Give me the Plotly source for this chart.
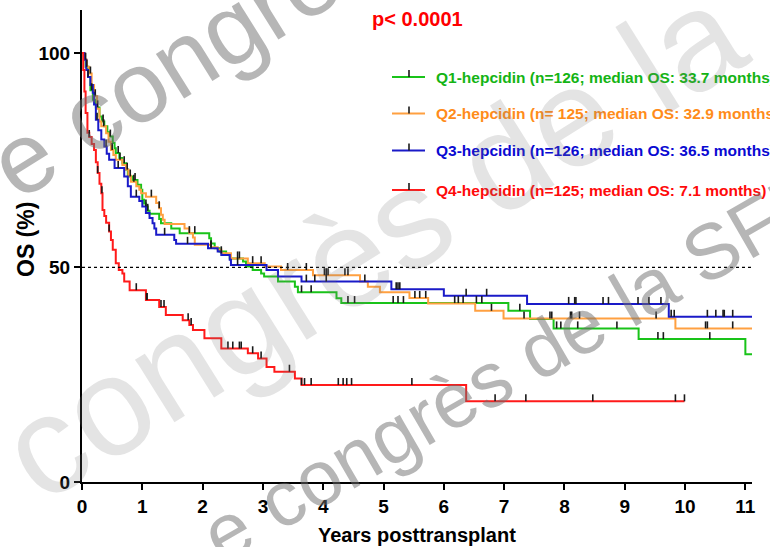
import numpy as np
import plotly.graph_objects as go

# ---------------- data (years, OS %) ----------------
q1_times = [0.03, 0.06, 0.10, 0.14, 0.18, 0.23, 0.29, 0.33, 0.37, 0.42, 0.45, 0.51, 0.54, 0.56, 0.62,
            0.67, 0.73, 0.76, 0.84, 0.92, 0.98, 1.00, 1.03, 1.06, 1.09, 1.12, 1.28, 1.31, 1.48, 1.62,
            2.11, 2.14, 2.20, 2.28, 2.39, 2.45, 2.67, 2.72, 2.83, 2.97, 3.02, 3.25, 3.53, 3.58, 4.22,
            4.30, 7.07, 7.43, 7.82, 9.23, 11.00]
q1_surv = [98.4, 96.8, 94.4, 91.3, 89.1, 87.3, 85.2, 84.0, 82.9, 81.5, 80.5, 79.0, 77.8, 76.7, 75.5,
           74.3, 72.8, 71.2, 70.4, 69.3, 68.1, 65.8, 64.9, 64.2, 63.2, 62.5, 61.3, 60.3, 59.1, 58.0,
           56.8, 55.6, 54.5, 53.7, 52.9, 52.1, 51.4, 50.2, 49.4, 48.6, 47.9, 46.7, 45.5, 44.2, 42.8,
           41.7, 39.9, 38.0, 35.8, 33.3, 29.8]
q1_end = 11.11
q1_cens = [0.08, 0.16, 0.26, 0.35, 0.47, 0.60, 0.70, 0.80, 0.88, 1.06, 1.09, 1.78, 1.87, 2.58, 3.64,
           3.80, 4.41, 4.52, 5.16, 5.24, 5.33, 6.18, 6.24, 6.32, 6.54, 6.63, 7.26, 7.87, 7.94, 8.22,
           8.87, 9.55, 9.64, 10.41]

q2_times = [0.04, 0.08, 0.12, 0.16, 0.20, 0.25, 0.29, 0.32, 0.40, 0.44, 0.48, 0.52, 0.56, 0.67, 0.73,
            0.77, 0.81, 0.90, 0.95, 0.98, 1.06, 1.23, 1.28, 1.31, 1.34, 1.37, 1.70, 1.78, 1.84, 1.87,
            2.14, 2.25, 2.31, 2.47, 2.75, 3.03, 3.30, 3.83, 4.61, 4.74, 4.94, 5.43, 5.74, 6.52, 6.99,
            9.84]
q2_surv = [98.4, 96.8, 95.2, 92.5, 89.9, 87.0, 84.0, 82.9, 81.3, 79.3, 77.4, 76.2, 75.1, 73.9, 72.8,
           71.4, 70.0, 68.9, 68.1, 67.3, 66.5, 65.0, 63.8, 62.3, 61.1, 60.1, 59.1, 58.0, 57.0, 55.3,
           54.7, 54.2, 53.3, 52.1, 51.0, 50.2, 49.4, 48.2, 46.7, 45.5, 44.2, 42.9, 41.6, 39.9, 38.1,
           35.8]
q2_end = 11.11
q2_cens = [0.06, 0.14, 0.22, 0.36, 0.50, 0.63, 0.75, 0.86, 1.15, 1.28, 2.14, 2.31, 2.61, 2.83, 2.97,
           3.41, 3.72, 4.02, 4.05, 4.08, 4.36, 4.41, 4.69, 5.52, 5.60, 5.70, 6.79, 7.33, 7.76, 7.79,
           8.10, 8.12, 8.25, 9.52, 10.34, 10.37, 10.79]

q3_times = [0.04, 0.07, 0.10, 0.14, 0.18, 0.20, 0.23, 0.27, 0.32, 0.37, 0.41, 0.45, 0.54, 0.70, 0.76,
            0.81, 0.95, 1.00, 1.06, 1.12, 1.17, 1.20, 1.23, 1.53, 1.56, 2.09, 2.25, 2.31, 2.45, 2.47,
            3.06, 3.25, 3.64, 5.13, 6.00, 7.38, 9.73]
q3_surv = [98.4, 96.0, 94.4, 92.5, 90.7, 88.0, 84.4, 82.0, 79.8, 78.2, 76.5, 75.1, 73.2, 71.2, 68.9,
           66.5, 65.5, 64.2, 62.7, 61.5, 60.3, 59.1, 57.6, 56.4, 55.5, 54.5, 53.7, 52.9, 51.8, 50.6,
           49.4, 47.9, 46.7, 44.9, 43.4, 41.5, 38.5]
q3_end = 11.11
q3_cens = [0.10, 0.25, 0.40, 0.60, 0.90, 1.37, 1.75, 2.14, 2.58, 3.72, 3.86, 4.05, 5.21, 5.24, 5.27,
           6.37, 6.71, 8.07, 8.17, 8.19, 8.64, 8.73, 9.22, 9.40, 9.60, 9.77, 9.82, 10.37, 10.51, 10.63,
           10.65, 10.79]

q4_times = [0.02, 0.04, 0.06, 0.09, 0.12, 0.16, 0.20, 0.23, 0.26, 0.29, 0.32, 0.34, 0.37, 0.40, 0.45,
            0.48, 0.51, 0.56, 0.61, 0.67, 0.70, 0.79, 1.06, 1.28, 1.39, 1.67, 1.78, 1.84, 2.03, 2.31,
            2.75, 2.92, 3.06, 3.19, 3.53, 3.64, 6.37]
q4_surv = [96.0, 91.0, 86.0, 81.4, 80.4, 78.8, 77.4, 74.5, 72.0, 69.5, 67.3, 63.4, 62.0, 60.4, 58.4,
           56.4, 54.1, 51.0, 49.4, 48.6, 46.7, 44.7, 42.4, 40.8, 38.9, 37.7, 36.6, 35.4, 33.5, 31.1,
           30.0, 28.8, 26.8, 25.7, 24.1, 22.6, 18.8]
q4_end = 9.99
q4_cens = [0.12, 0.26, 0.33, 0.45, 0.90, 1.07, 1.08, 1.31, 1.36, 1.76, 1.81, 2.42, 2.50, 2.61, 2.64,
           2.83, 2.97, 3.44, 3.64, 3.69, 3.80, 4.25, 4.33, 4.39, 4.47, 5.47, 6.85, 7.36, 8.47, 9.84,
           9.99]

labels = ["Q1-hepcidin (n=126; median OS: 33.7 months)",
          "Q2-hepcidin (n= 125; median OS: 32.9 months)",
          "Q3-hepcidin (n=126; median OS: 36.5 months)",
          "Q4-hepcidin (n=125; median OS: 7.1 months)"]
line_colors = ["#19c319", "#ffa040", "#1a1ac8", "#ff1a1a"]
text_colors = ["#14b414", "#ff8c1a", "#0a0ad2", "#ff0a0a"]
p_text = "p< 0.0001"
x_ticks = list(range(0, 12))
y_ticks = [0, 50, 100]

groups = [(q1_times, q1_surv, q1_end, q1_cens),
          (q2_times, q2_surv, q2_end, q2_cens),
          (q3_times, q3_surv, q3_end, q3_cens),
          (q4_times, q4_surv, q4_end, q4_cens)]

FONT = "Liberation Sans, Arial, sans-serif"
fig = go.Figure()

# plot geometry (px) for converting small offsets
L, R, T, B = 82, 18, 10, 65
W, H = 770, 547
XMAX, YMAX = 11.11, 110
py_per = (H - T - B) / YMAX
px_per = (W - L - R) / XMAX
tick_h = 7 / py_per

def surv_at(times, surv, t):
    idx = np.searchsorted(np.array(times), t, side="right")
    return 100.0 if idx == 0 else surv[idx - 1]

for (times, surv, end, cens), col in zip(groups, line_colors):
    xs = [0] + list(times) + [end]
    ys = [100] + list(surv) + [surv[-1]]
    fig.add_trace(go.Scatter(x=xs, y=ys, mode="lines", line=dict(color=col, width=2, shape="hv"),
                             hoverinfo="skip", showlegend=False))

# censor ticks
for (times, surv, end, cens), col in zip(groups, line_colors):
    cx, cy = [], []
    for t in cens:
        s = surv_at(times, surv, t)
        cx += [t, t, None]
        cy += [s, s + tick_h, None]
    fig.add_trace(go.Scatter(x=cx, y=cy, mode="lines", line=dict(color="#1a1a1a", width=1.6),
                             hoverinfo="skip", showlegend=False))

# dotted 50% reference line
fig.add_shape(type="line", x0=0, x1=XMAX, y0=50, y1=50, xref="x", yref="y",
              line=dict(color="black", width=1.2, dash="dot"))

# legend (custom)
leg_py = [77, 113.5, 150.5, 190]
for lab, lc, tc, py in zip(labels, line_colors, text_colors, leg_py):
    yv = (H - B - py) / py_per
    x0 = (392 - L) / px_per
    x1 = (425 - L) / px_per
    xm = (409 - L) / px_per
    fig.add_shape(type="line", x0=x0, x1=x1, y0=yv, y1=yv, line=dict(color=lc, width=2))
    fig.add_shape(type="line", x0=xm, x1=xm, y0=yv, y1=yv + tick_h, line=dict(color="#1a1a1a", width=1.6))
    fig.add_annotation(x=(434 - L) / px_per, y=yv, text=lab, showarrow=False, xanchor="left",
                       yanchor="middle", font=dict(family=FONT, size=15.5, color=tc, weight="bold"))

fig.add_annotation(x=(417 - L) / px_per, y=(H - B - 19) / py_per, text=p_text, showarrow=False,
                   xanchor="center", yanchor="middle",
                   font=dict(family=FONT, size=20, color="#ff0000", weight="bold"))

# axis titles
fig.add_annotation(xref="paper", yref="paper", x=(417 - L) / (W - L - R), y=(H - B - 535) / (H - T - B),
                   text="Years posttransplant", showarrow=False, xanchor="center", yanchor="middle",
                   font=dict(family=FONT, size=20, color="black", weight="bold"))
fig.add_annotation(xref="paper", yref="paper", x=(26 - L) / (W - L - R), y=(H - B - 240) / (H - T - B),
                   text="OS (%)", showarrow=False, textangle=-90, xanchor="center", yanchor="middle",
                   font=dict(family=FONT, size=23, color="black", weight="bold"))

# watermark
wm = [("e congrès de la SFH", 100, 386, -69, -32, "rgba(110,110,110,0.5)"),
      ("e congrès de la SFH", 140, 457, 188, -32, "rgba(120,120,120,0.2)"),
      ("e congrès de la SFH", 78, 516, 364, -30, "rgba(110,110,110,0.5)")]
for txt, fs, cxp, cyp, ang, wc in wm:
    fig.add_annotation(xref="paper", yref="paper", x=(cxp - L) / (W - L - R), y=(H - B - cyp) / (H - T - B),
                       text=txt, showarrow=False, textangle=ang, xanchor="center", yanchor="middle",
                       font=dict(family="Liberation Sans, Arial", size=fs, color=wc))

axis_common = dict(showline=True, linecolor="black", linewidth=2, ticks="outside", ticklen=6,
                   tickwidth=2, tickcolor="black", showgrid=False, zeroline=False,
                   tickfont=dict(family=FONT, size=19, color="black", weight="bold"))
fig.update_xaxes(range=[0, XMAX], tickvals=x_ticks, **axis_common)
fig.update_yaxes(range=[0, YMAX], tickvals=y_ticks, **axis_common)

fig.update_layout(width=W, height=H, margin=dict(l=L, r=R, t=T, b=B), plot_bgcolor="white",
                  paper_bgcolor="white", showlegend=False)

fig.write_html("out.html")
